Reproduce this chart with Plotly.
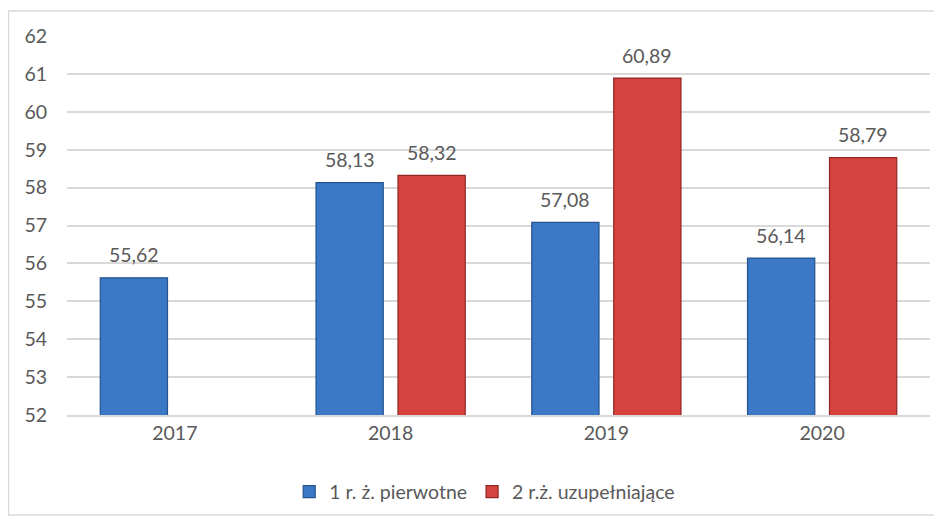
import plotly.graph_objects as go

years = ['2017', '2018', '2019', '2020']
pierwotne = [55.62, 58.13, 57.08, 56.14]
uzupelniajace = [None, 58.32, 60.89, 58.79]
y_ticks = list(range(52, 63))


def pl(v):
    # polish decimal comma
    return f'{v:.2f}'.replace('.', ',')


fig = go.Figure()
fig.add_bar(x=years, y=pierwotne, name='1 r. ż. pierwotne',
            marker=dict(color='#3b78c6', line=dict(color='#24538f', width=1.2)))
fig.add_bar(x=years, y=uzupelniajace, name='2 r.ż. uzupełniające',
            marker=dict(color='#d6433f', line=dict(color='#8f2624', width=1.2)))

# value labels above bars (excel style, a bit lifted)
# x is the category index, since year strings get read as numbers
for series, shift in ((pierwotne, -41), (uzupelniajace, 41)):
    for i, v in enumerate(series):
        if v is None:
            continue
        fig.add_annotation(x=i, y=v, text=pl(v), showarrow=False, xshift=shift,
                           yshift=23, yanchor='middle',
                           font=dict(size=19.5, color='#595959'))

fig.layout.barmode = 'group'
fig.layout.bargap = 0.24
fig.layout.bargroupgap = 0.18
# page body has an 8px margin, so the figure is a bit smaller than the window
fig.layout.width = 934
fig.layout.height = 511
fig.layout.margin = dict(l=59, r=12, t=28, b=104, autoexpand=False)
fig.layout.plot_bgcolor = 'white'
fig.layout.paper_bgcolor = 'white'
fig.layout.font = dict(family='Lato, Open Sans, sans-serif', size=19.5, color='#595959')

fig.update_yaxes(range=[52, 62], tickvals=y_ticks, showgrid=True, gridcolor='#d9d9d9',
                 gridwidth=1.5, zeroline=False, ticks='', ticklabelstandoff=19)
fig.update_xaxes(type='category', range=[-0.5, len(years) - 0.5], showline=True,
                 linecolor='#d9d9d9', linewidth=1.5, ticks='')

fig.layout.legend = dict(orientation='h', x=0.484, xanchor='center', y=-0.203, yanchor='middle',
                         font=dict(size=19.5, color='#595959'), itemwidth=30,
                         traceorder='normal')

# chart frame, like the excel chart border
fig.add_shape(type='rect', xref='paper', yref='paper', x0=-0.0678, x1=1.2, y0=-0.264, y1=1.066,
              line=dict(color='#d9d9d9', width=1.5), fillcolor='rgba(0,0,0,0)', layer='below')

fig.write_html('out.html')
